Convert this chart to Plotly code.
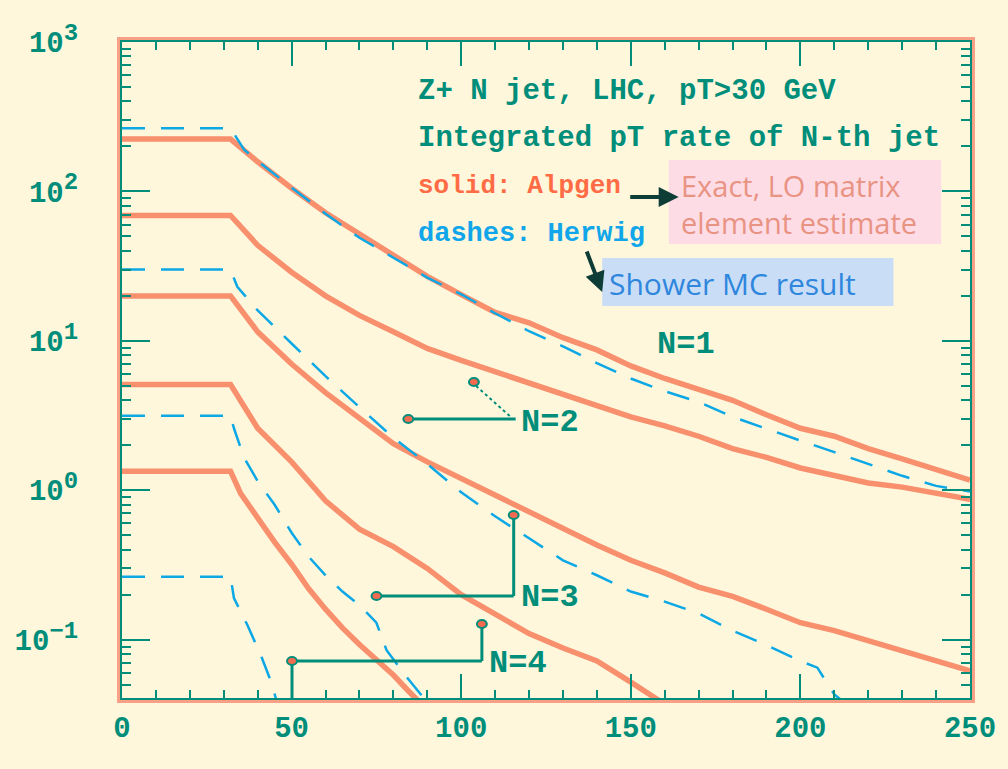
import plotly.graph_objects as go

# ---------------- data ----------------
# Alpgen (solid) integrated pT rates of the N-th jet
alp_x = [0, 32, 40, 50, 60, 70, 80, 90, 100, 110, 120, 130, 140, 150, 160,
         170, 180, 190, 200, 210, 220, 230, 240, 250]
alp_n1 = [224, 224, 158, 105, 72, 52, 37, 27, 20.4, 15.5, 13.2, 10.5, 8.7, 6.8,
          5.6, 4.7, 4.0, 3.2, 2.6, 2.3, 1.9, 1.62, 1.38, 1.17]
alp_n2 = [69, 69, 43.6, 28.8, 20, 14.8, 11.5, 8.9, 7.4, 6.2, 5.2, 4.4, 3.7, 3.1,
          2.7, 2.3, 1.9, 1.66, 1.41, 1.26, 1.12, 1.05, 0.95, 0.87]
alp_n3 = [20, 20, 11.5, 7.0, 4.5, 3.0, 2.05, 1.55, 1.2, 0.92, 0.72, 0.56, 0.43,
          0.34, 0.28, 0.225, 0.195, 0.16, 0.13, 0.115, 0.098, 0.085, 0.072, 0.062]
alp_n4_x = [0, 32, 40, 50, 60, 70, 80, 90, 100, 110, 120, 130, 140, 150, 160]
alp_n4 = [5.1, 5.1, 2.6, 1.55, 0.85, 0.55, 0.42, 0.30, 0.20, 0.15, 0.11, 0.088,
          0.072, 0.052, 0.037]
alp_n5_x = [0, 32, 35, 40, 45, 50, 55, 60, 65, 70, 75, 80, 85, 90]
alp_n5 = [1.34, 1.34, 0.95, 0.65, 0.45, 0.32, 0.22, 0.16, 0.12, 0.093, 0.073,
          0.058, 0.044, 0.034]

# Herwig (dashes)
her_n1_x = [0, 32, 36, 40, 50, 60, 70, 80, 90, 100, 110, 120, 130, 140, 150,
            160, 170, 180, 190, 200, 210, 220, 230, 240, 250]
her_n1 = [265, 265, 190, 160, 106, 71, 49, 36, 26.5, 20.5, 15.3, 11.6, 9.2, 7.1,
          5.6, 4.6, 3.9, 3.1, 2.57, 2.15, 1.8, 1.5, 1.25, 1.07, 0.98]
her_n2_x = [0, 32, 34, 40, 50, 60, 70, 80, 90, 100, 110, 120, 130, 140, 150,
            160, 170, 180, 190, 200, 205, 210, 215]
her_n2 = [30, 30, 23, 16, 9.6, 5.8, 3.6, 2.25, 1.5, 0.97, 0.67, 0.48, 0.34, 0.27,
          0.21, 0.18, 0.15, 0.115, 0.092, 0.072, 0.065, 0.043, 0.035]
her_n3_x = [0, 32, 33, 36, 40, 45, 50, 55, 60, 65, 70, 75, 78, 84, 90]
her_n3 = [3.15, 3.15, 2.6, 1.65, 1.15, 0.8, 0.52, 0.36, 0.27, 0.21, 0.17, 0.13,
          0.085, 0.056, 0.038]
her_n4_x = [0, 32, 33, 37, 41, 44, 46]
her_n4 = [0.264, 0.264, 0.19, 0.125, 0.078, 0.052, 0.036]

# axis ticks
x_ticks = [0, 50, 100, 150, 200, 250]
y_ticks = [0.1, 1, 10, 100, 1000]
y_exponents = ["\u22121", "0", "1", "2", "3"]

# ---------------- styles ----------------
BG = "#FFF7DC"
TEAL = "#008E7B"
SALMON = "#F8906E"
BLUE = "#0CA8E6"
MONO = "Liberation Mono"

y_tick_text = ["10<sup><span style='font-size:24px'>%s</span></sup>" % e
               for e in y_exponents]

fig = go.Figure()

for xs, ys in [(alp_x, alp_n1), (alp_x, alp_n2), (alp_x, alp_n3),
               (alp_n4_x, alp_n4), (alp_n5_x, alp_n5)]:
    fig.add_trace(go.Scatter(x=xs, y=ys, mode="lines",
                             line=dict(color=SALMON, width=5.5),
                             hoverinfo="skip", showlegend=False))

for xs, ys in [(her_n1_x, her_n1), (her_n2_x, her_n2), (her_n3_x, her_n3),
               (her_n4_x, her_n4)]:
    fig.add_trace(go.Scatter(x=xs, y=ys, mode="lines",
                             line=dict(color=BLUE, width=2.5, dash="23px,16px"),
                             hoverinfo="skip", showlegend=False))

# ---------------- layout geometry (pixels) ----------------
L, R, T, B = 122, 975, 42, 698


def px(v):
    return (v - L) / (R - L)


def py(v):
    return (B - v) / (B - T)


shapes = []
# outer salmon frame
shapes.append(dict(type="rect", xref="paper", yref="paper",
                   x0=px(L - 3), x1=px(R + 3), y0=py(B + 3), y1=py(T - 3),
                   line=dict(color="#F7A085", width=4), layer="below"))
# info boxes
shapes.append(dict(type="rect", xref="paper", yref="paper",
                   x0=px(672), x1=px(946), y0=py(244), y1=py(160),
                   fillcolor="#FDDCE6", line=dict(width=0), layer="below"))
shapes.append(dict(type="rect", xref="paper", yref="paper",
                   x0=px(605), x1=px(898), y0=py(306), y1=py(258),
                   fillcolor="#C9DEF6", line=dict(width=0), layer="below"))

# pointer lines for the N labels
segs = [((410, 419), (518, 419)),
        ((378, 596), (516, 596)), ((516, 596), (516, 515)),
        ((293, 661), (484, 661)), ((484, 661), (484, 624)),
        ((293, 661), (293, 698))]
for (a, b) in segs:
    shapes.append(dict(type="line", xref="paper", yref="paper",
                       x0=px(a[0]), y0=py(a[1]), x1=px(b[0]), y1=py(b[1]),
                       line=dict(color=TEAL, width=3)))
shapes.append(dict(type="line", xref="paper", yref="paper",
                   x0=px(512), y0=py(416), x1=px(477), y1=py(385),
                   line=dict(color=TEAL, width=2, dash="dot")))
for (cx, cy) in [(410, 419), (476, 382), (378, 596), (516, 515), (293, 661),
                 (484, 624)]:
    r = 5
    shapes.append(dict(type="circle", xref="paper", yref="paper",
                       x0=px(cx - r), x1=px(cx + r), y0=py(cy + r - 1),
                       y1=py(cy - r + 1), fillcolor="#F26B50",
                       line=dict(color=TEAL, width=2)))

ann = []


def text(x, y, s, size, color, family=MONO, weight="bold", xanchor="left"):
    ann.append(dict(xref="paper", yref="paper", x=px(x), y=py(y), text=s,
                    showarrow=False, xanchor=xanchor, yanchor="middle",
                    font=dict(family=family, size=size, color=color,
                              weight=weight)))


text(418, 92, "Z+ N jet, LHC, pT>30 GeV", 29, TEAL)
text(418, 139, "Integrated pT rate of N-th jet", 29, TEAL)
text(418, 186, "solid: Alpgen", 26, "#FF6B45")
text(418, 234, "dashes: Herwig", 27, "#11A6EA")
text(682, 186, "Exact, LO matrix", 29, "#E99383", family="Open Sans",
     weight="normal")
text(682, 222, "element estimate", 29, "#E99383", family="Open Sans",
     weight="normal")
text(610, 283, "Shower MC result", 30, "#2F86DD", family="Open Sans",
     weight="normal")
text(689, 344, "N=1", 32, TEAL, xanchor="center")
text(553, 422, "N=2", 32, TEAL, xanchor="center")
text(553, 597, "N=3", 32, TEAL, xanchor="center")
text(520, 663, "N=4", 32, TEAL, xanchor="center")

# arrows to the boxes
for (hx, hy, tx, ty) in [(682, 197, 632, 197), (605, 292, 589, 250)]:
    ann.append(dict(xref="paper", yref="paper", x=px(hx), y=py(hy),
                    ax=tx - hx, ay=ty - hy, text="", showarrow=True,
                    arrowhead=2, arrowsize=1, arrowwidth=4,
                    arrowcolor="#0E3C36", standoff=0))

minor_y = [m * 10.0 ** e for e in range(-2, 3) for m in range(2, 10)]

fig.update_layout(
    width=1008, height=769, autosize=False,
    margin=dict(l=L, r=1008 - R, t=T, b=769 - B),
    paper_bgcolor=BG, plot_bgcolor=BG,
    showlegend=False,
    shapes=shapes, annotations=ann,
    xaxis=dict(range=[0, 250], tickvals=x_ticks, ticks="inside", ticklen=24,
               tickwidth=2, tickcolor=TEAL, showline=True, linecolor=TEAL,
               linewidth=2, mirror="allticks", showgrid=False, zeroline=False,
               ticklabelstandoff=2,
               tickfont=dict(family=MONO, size=29, color=TEAL, weight="bold"),
               minor=dict(tick0=0, dtick=10, ticks="inside", ticklen=8,
                          tickwidth=2, tickcolor=TEAL, showgrid=False)),
    yaxis=dict(type="log", range=[-1.39, 3.0], tickvals=y_ticks,
               ticktext=y_tick_text, ticks="inside", ticklen=28, tickwidth=2,
               tickcolor=TEAL, showline=True, linecolor=TEAL, linewidth=2,
               mirror="allticks", showgrid=False, zeroline=False,
               ticklabelstandoff=36,
               tickfont=dict(family=MONO, size=29, color=TEAL, weight="bold"),
               minor=dict(tickvals=minor_y, ticks="inside", ticklen=9,
                          tickwidth=2, tickcolor=TEAL, showgrid=False)),
)

fig.write_html("out.html")
